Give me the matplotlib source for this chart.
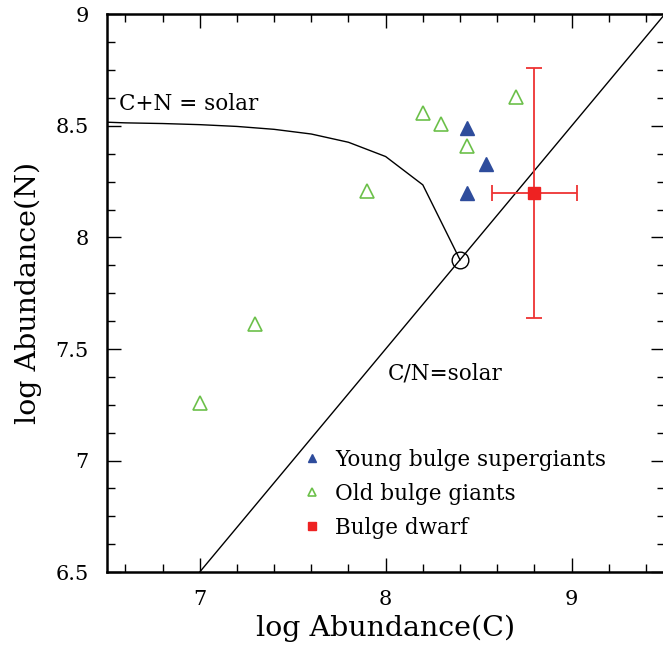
import matplotlib
matplotlib.use('Agg')
import matplotlib.pyplot as plt
from matplotlib.ticker import MultipleLocator

plt.rcParams['font.family'] = ['DejaVu Serif']

# Young bulge supergiants (filled blue triangles)
young_c = [8.44, 8.54, 8.44]
young_n = [8.49, 8.33, 8.20]

# Old bulge giants (open green triangles)
old_c = [8.20, 8.30, 8.44, 7.90, 8.70, 7.30, 7.00]
old_n = [8.56, 8.51, 8.41, 8.21, 8.63, 7.61, 7.26]

# Bulge dwarf with error bars
dwarf_c = [8.80]
dwarf_n = [8.20]
dwarf_cerr = [0.23]
dwarf_nerr = [0.56]

# solar point
sun_c = [8.40]
sun_n = [7.90]

# C+N = solar curve
cn_c = [6.5, 6.6, 6.8, 7.0, 7.2, 7.4, 7.6, 7.8, 8.0, 8.2, 8.4]
cn_n = [8.517, 8.514, 8.511, 8.506, 8.498, 8.485, 8.464, 8.427, 8.363, 8.236, 7.90]

# C/N = solar line
cnr_c = [6.5, 9.5]
cnr_n = [6.0, 9.0]

fig = plt.figure(figsize=(6.63, 6.49), dpi=100)
ax = fig.add_axes([0.161, 0.1186, 0.8413, 0.8591])

ax.plot(cn_c, cn_n, color='black', lw=1.0)
ax.plot(cnr_c, cnr_n, color='black', lw=1.0)
ax.plot(sun_c, sun_n, 'o', ms=12, mfc='none', mec='black', mew=1.0)

ax.plot(young_c, young_n, '^', ms=9.5, color='#2e4c9c', ls='none',
        label='Young bulge supergiants')
ax.plot(old_c, old_n, '^', ms=10, mfc='none', mec='#6cc04a', mew=1.2,
        ls='none', label='Old bulge giants')
ax.errorbar(dwarf_c, dwarf_n, xerr=dwarf_cerr, yerr=dwarf_nerr, fmt='none',
            ecolor='#ee3333', elinewidth=1.3, capsize=6, capthick=1.3)
ax.plot(dwarf_c, dwarf_n, 's', ms=8.5, color='#ee2222', ls='none',
        label='Bulge dwarf')

ax.text(6.565, 8.60, 'C+N = solar', fontsize=15.5, va='center', ha='left')
ax.text(8.01, 7.39, 'C/N=solar', fontsize=15.5, va='center', ha='left')

ax.set_xlim(6.5, 9.5)
ax.set_ylim(6.5, 9.0)
ax.xaxis.set_major_locator(MultipleLocator(1))
ax.xaxis.set_minor_locator(MultipleLocator(0.2))
ax.yaxis.set_major_locator(MultipleLocator(0.5))
ax.yaxis.set_minor_locator(MultipleLocator(0.125))
ax.yaxis.set_major_formatter(plt.FuncFormatter(lambda v, p: f'{v:g}'))
ax.tick_params(which='both', direction='in', top=True, right=True,
               labelsize=15, width=1.0)
ax.tick_params(which='major', length=10, pad=13)
ax.tick_params(which='minor', length=6)
for s in ax.spines.values():
    s.set_linewidth(1.8)

ax.set_xlabel('log Abundance(C)', fontsize=20.5, labelpad=4)
ax.set_ylabel('log Abundance(N)', fontsize=20.5, labelpad=10)

# legend without a frame, small markers
ax.legend(loc='upper left', bbox_to_anchor=(0.33, 0.24), frameon=False,
          fontsize=15.5, handlelength=1.0, handletextpad=0.55,
          labelspacing=0.55, borderpad=0, markerscale=0.6)

fig.savefig('out.png', dpi=100)
